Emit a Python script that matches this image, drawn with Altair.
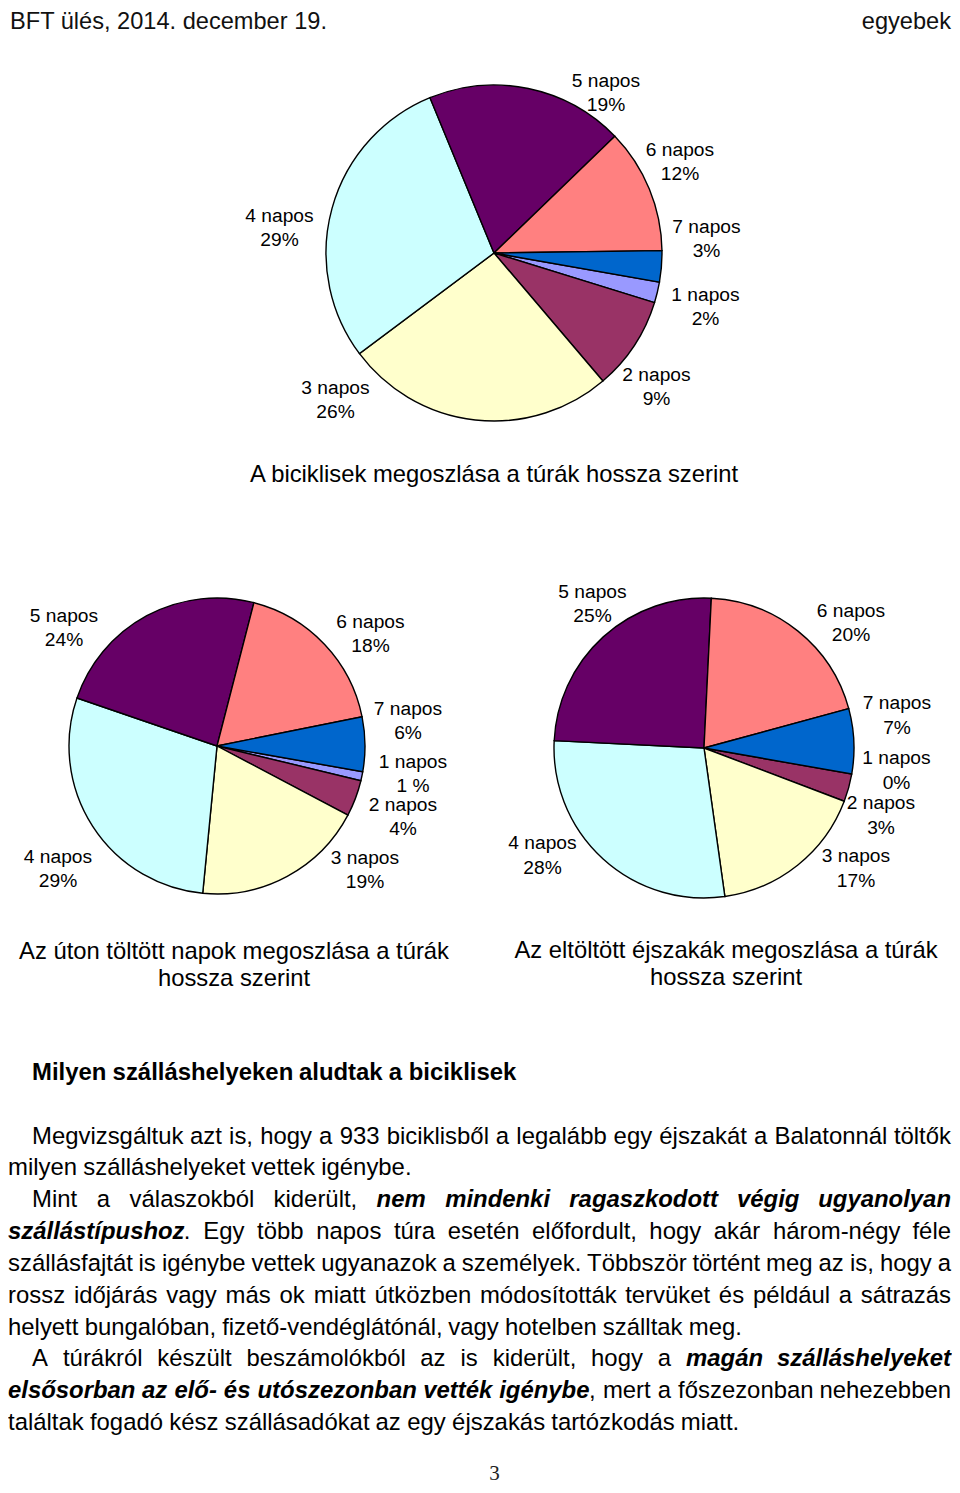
import math
import altair as alt
import pandas as pd

# ---------------- data ----------------
categories = ["1 napos", "2 napos", "3 napos", "4 napos", "5 napos", "6 napos", "7 napos"]
bikes_pct = [2, 9, 26, 29, 19, 12, 3]
days_pct = [1, 4, 19, 29, 24, 18, 6]
nights_pct = [0, 3, 17, 28, 25, 20, 7]
days_pct_text = ["1 %", "4%", "19%", "29%", "24%", "18%", "6%"]
slice_colors = ["#9999FF", "#993366", "#FFFFCC", "#CCFFFF", "#660066", "#FF8080", "#0066CC"]

title_bikes = ["A biciklisek megoszlása a túrák hossza szerint"]
title_days = ["Az úton töltött napok megoszlása a túrák", "hossza szerint"]
title_nights = ["Az eltöltött éjszakák megoszlása a túrák", "hossza szerint"]

header_left = "BFT ülés, 2014. december 19."
header_right = "egyebek"
page_number = "3"

N, B, BI = "n", "b", "bi"
body_lines = [
    [("Milyen szálláshelyeken aludtak a biciklisek", B)],
    [("Megvizsgáltuk azt is, hogy a 933 biciklisből a legalább egy éjszakát a Balatonnál töltők", N)],
    [("milyen szálláshelyeket vettek igénybe.", N)],
    [("Mint a válaszokból kiderült, ", N), ("nem mindenki ragaszkodott végig ugyanolyan", BI)],
    [("szállástípushoz", BI), (". Egy több napos túra esetén előfordult, hogy akár három-négy féle", N)],
    [("szállásfajtát is igénybe vettek ugyanazok a személyek. Többször történt meg az is, hogy a", N)],
    [("rossz időjárás vagy más ok miatt útközben módosították tervüket és például a sátrazás", N)],
    [("helyett bungalóban, fizető-vendéglátónál, vagy hotelben szálltak meg.", N)],
    [("A túrákról készült beszámolókból az is kiderült, hogy a ", N), ("magán szálláshelyeket", BI)],
    [("elsősorban az elő- és utószezonban vették igénybe", BI), (", mert a főszezonban nehezebben", N)],
    [("találtak fogadó kész szállásadókat az egy éjszakás tartózkodás miatt.", N)],
]

# ---------------- layout (page pixels) ----------------
OFF = 8
W, H = 944, 1477
FONT = "Liberation Sans, Arial, sans-serif"
START = math.radians(100)

pies = [
    dict(values=bikes_pct, pct=[f"{v}%" for v in bikes_pct], cx=494, cy=253, r=168,
         lab=[(705.5, 294), (656.5, 374), (335.5, 387), (279.5, 215), (606, 80), (680, 149), (706.5, 226)]),
    dict(values=days_pct, pct=days_pct_text, cx=217, cy=746, r=148,
         lab=[(413, 761), (403, 804), (365, 857), (58, 856), (64, 615), (370.5, 621), (408, 708)]),
    dict(values=nights_pct, pct=[f"{v}%" for v in nights_pct], cx=704, cy=748, r=150,
         lab=[(896.5, 757.5), (881, 802.5), (856, 855.5), (542.5, 842.5), (592.5, 591), (851, 610), (897, 702.5)]),
]
LABEL_DY = 0.5
TEXT_DY = 1.0

# line layout: (left, right, y, justify)
RIGHT = 951
body_layout = [
    (32, None, 1072, False),
    (32, RIGHT, 1136, True),
    (2, None, 1167, False),
    (32, RIGHT, 1199, True),
    (2, RIGHT, 1231, True),
    (2, RIGHT, 1263, True),
    (2, RIGHT, 1295, True),
    (2, None, 1327, False),
    (32, RIGHT, 1358, True),
    (2, RIGHT, 1390, True),
    (2, None, 1422, False),
]
FS_BODY = 23.9
WIDTH_FACTOR = 0.995

# Arial-compatible advance widths (per 1000 em)
REG = {" ": 278, ",": 278, ".": 278, "-": 333, "%": 889}
REG.update({d: 556 for d in "0123456789"})
REG.update({"A": 667, "B": 667, "E": 667, "M": 833, "T": 611, "F": 611})
REG.update(zip("abcdefghijklmnopqrstuvwxyz",
               [556, 556, 500, 556, 556, 278, 556, 556, 222, 222, 500, 222, 833,
                556, 556, 556, 556, 333, 500, 278, 556, 500, 722, 500, 500, 500]))
REG.update({"á": 556, "é": 556, "í": 278, "ó": 556, "ö": 556, "ő": 556, "ú": 556, "ü": 556, "ű": 556})
BOLD = {" ": 278, ",": 278, ".": 278, "-": 333, "%": 889}
BOLD.update({d: 556 for d in "0123456789"})
BOLD.update({"A": 722, "B": 722, "E": 667, "M": 833, "T": 611, "F": 611})
BOLD.update(zip("abcdefghijklmnopqrstuvwxyz",
                [556, 611, 556, 611, 556, 333, 611, 611, 278, 278, 556, 278, 889,
                 611, 611, 611, 611, 389, 556, 333, 611, 556, 778, 556, 556, 500]))
BOLD.update({"á": 556, "é": 556, "í": 278, "ó": 611, "ö": 611, "ő": 611, "ú": 611, "ü": 611, "ű": 611})


def text_width(s, style):
    table = REG if style == N else BOLD
    return sum(table.get(ch, 556) for ch in s) / 1000.0 * FS_BODY * WIDTH_FACTOR


rows = {(N, "left"): [], (B, "left"): [], (BI, "left"): [],
        (N, "right"): [], (B, "right"): [], (BI, "right"): []}
for pieces, (left, right, y, justify) in zip(body_lines, body_layout):
    left = max(left, OFF)
    words = []
    new_word = True
    for text, style in pieces:
        parts = text.split(" ")
        for i, p in enumerate(parts):
            if i > 0:
                new_word = True
            if p == "":
                continue
            if new_word:
                words.append([])
                new_word = False
            words[-1].append((p, style))
    widths = [sum(text_width(t, s) for t, s in w) for w in words]
    if justify and len(words) > 1:
        gap = (right - left - sum(widths)) / (len(words) - 1)
    else:
        gap = REG[" "] / 1000.0 * FS_BODY * WIDTH_FACTOR
    x = left
    py = y - OFF + TEXT_DY
    for k, (w, wd) in enumerate(zip(words, widths)):
        last = justify and k == len(words) - 1
        if last and len(w) == 1:
            t, s = w[0]
            rows[(s, "right")].append({"txt": t, "px": right - OFF, "py": py})
        else:
            xx = x
            for t, s in w:
                rows[(s, "left")].append({"txt": t, "px": xx - OFF, "py": py})
                xx += text_width(t, s)
        x += wd + gap

# ---------------- chart ----------------
color_scale = alt.Scale(domain=categories, range=slice_colors)
layers = []
for p in pies:
    df = pd.DataFrame({
        "cat": categories,
        "value": p["values"],
        "idx": list(range(len(categories))),
        "label": [c + "\n" + t for c, t in zip(categories, p["pct"])],
        "px": [a - OFF for a, b in p["lab"]],
        "py": [b - OFF + LABEL_DY for a, b in p["lab"]],
    })
    base = alt.Chart(df)
    arc = base.mark_arc(outerRadius=p["r"], stroke="black", strokeWidth=1.4).encode(
        theta=alt.Theta("value:Q", stack=True, scale=alt.Scale(range=[START, START + 2 * math.pi])),
        color=alt.Color("cat:N", scale=color_scale, legend=None),
        order=alt.Order("idx:Q"),
        x=alt.value(p["cx"] - OFF),
        y=alt.value(p["cy"] - OFF),
    )
    lab = base.mark_text(align="center", baseline="middle", fontSize=19.2, font=FONT,
                         lineBreak="\n", lineHeight=24.5, color="black").encode(
        x=alt.X("px:Q", scale=None, axis=None),
        y=alt.Y("py:Q", scale=None, axis=None),
        text="label:N",
    )
    layers += [arc, lab]

titles_df = pd.DataFrame({
    "txt": title_bikes + title_days + title_nights,
    "px": [494 - OFF, 234 - OFF, 234 - OFF, 726 - OFF, 726 - OFF],
    "py": [474 - OFF + TEXT_DY, 951 - OFF + TEXT_DY, 978 - OFF + TEXT_DY,
           950 - OFF + TEXT_DY, 977 - OFF + TEXT_DY],
})
layers.append(alt.Chart(titles_df).mark_text(align="center", baseline="middle", fontSize=23.8,
                                            font=FONT, color="black").encode(
    x=alt.X("px:Q", scale=None, axis=None), y=alt.Y("py:Q", scale=None, axis=None), text="txt:N"))

styles = {N: dict(), B: dict(fontWeight="bold"), BI: dict(fontWeight="bold", fontStyle="italic")}
for (s, al), rr in rows.items():
    if rr:
        layers.append(alt.Chart(pd.DataFrame(rr)).mark_text(
            align=al, baseline="middle", fontSize=FS_BODY, font=FONT, color="black", **styles[s]).encode(
            x=alt.X("px:Q", scale=None, axis=None), y=alt.Y("py:Q", scale=None, axis=None), text="txt:N"))

hdr_df = pd.DataFrame({"txt": [header_left], "px": [10 - OFF], "py": [14]})
layers.append(alt.Chart(hdr_df).mark_text(align="left", baseline="middle", fontSize=23.6,
                                          font=FONT, color="#111111").encode(
    x=alt.X("px:Q", scale=None, axis=None), y=alt.Y("py:Q", scale=None, axis=None), text="txt:N"))
hdr2_df = pd.DataFrame({"txt": [header_right], "px": [951 - OFF], "py": [14]})
layers.append(alt.Chart(hdr2_df).mark_text(align="right", baseline="middle", fontSize=23.6,
                                           font=FONT, color="#111111").encode(
    x=alt.X("px:Q", scale=None, axis=None), y=alt.Y("py:Q", scale=None, axis=None), text="txt:N"))
pg_df = pd.DataFrame({"txt": [page_number], "px": [494.5 - OFF], "py": [1466]})
layers.append(alt.Chart(pg_df).mark_text(align="center", baseline="middle", fontSize=21,
                                         font="Liberation Serif, Times New Roman, serif", color="#222222").encode(
    x=alt.X("px:Q", scale=None, axis=None), y=alt.Y("py:Q", scale=None, axis=None), text="txt:N"))

chart = alt.layer(*layers).resolve_scale(theta="independent").properties(
    width=W, height=H, padding=0, background="white",
    autosize=alt.AutoSizeParams(type="none"),
).configure_view(stroke=None)

chart.save("out.html", embed_options={"renderer": "svg", "actions": False})
